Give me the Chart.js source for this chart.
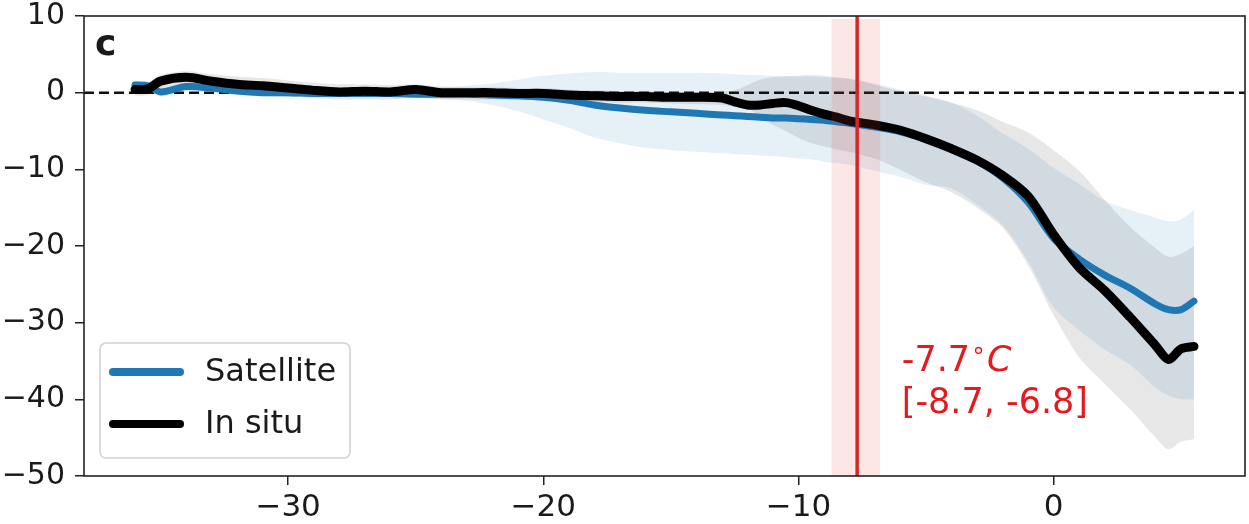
<!DOCTYPE html>
<html>
<head>
<meta charset="utf-8">
<script src="https://cdn.jsdelivr.net/npm/chart.js@4.4.1/dist/chart.umd.min.js"></script>
<style>
  body { margin: 0; background: #fff; }
  canvas { display: block; }
</style>
</head>
<body>
<canvas id="grafico" width="1249" height="524"></canvas>
<script>
// temperature offset (x) and values
const temps = [-36, -35.5, -35, -34, -33, -32, -31, -30, -29, -28, -27, -26, -25, -24, -23, -22, -21, -20, -19, -18,
    -17, -16, -15, -14, -13, -12.5, -12, -11.5, -11, -10.5, -10, -9.5, -9, -8.5, -8, -7, -6, -5, -4, -3,
    -2, -1, 0, 1, 2, 3, 4, 4.5, 5, 5.5];

const inSitu = [0.4, 0.5, 1.5, 2.0, 1.5, 1.1, 0.9, 0.6, 0.3, 0.1, 0.2, 0.1, 0.4, 0.0, 0.0, 0.0, -0.1, -0.1, -0.3, -0.4,
    -0.5, -0.5, -0.6, -0.6, -0.7, -1.2, -1.6, -1.6, -1.4, -1.3, -1.7, -2.3, -2.8, -3.2, -3.7, -4.2, -4.9, -6.0, -7.3, -8.8,
    -10.8, -13.5, -18.5, -22.8, -25.8, -29.3, -33.0, -34.8, -33.4, -33.1];
const inSituUpper = [1.2, 1.3, 2.3, 2.8, 2.4, 2.1, 1.9, 1.6, 1.3, 1.1, 1.1, 1.0, 1.1, 0.8, 0.7, 0.7, 0.6, 0.6, 0.4, 0.3,
    0.2, 0.2, 0.1, 0.1, 0.1, 0.3, 1.0, 1.7, 2.0, 2.1, 2.2, 2.3, 2.2, 2.0, 1.8, 1.0, 0.2, -0.5, -1.3, -2.3,
    -3.8, -5.2, -7.5, -10.2, -14.0, -17.5, -20.3, -21.4, -21.0, -20.0];
const inSituLower = [-0.4, -0.3, 0.6, 1.2, 0.6, 0.1, -0.2, -0.5, -0.7, -0.9, -0.9, -0.9, -0.7, -0.9, -0.9, -0.9, -0.9, -1.0, -1.1, -1.2,
    -1.3, -1.3, -1.4, -1.5, -1.6, -1.8, -2.0, -3.1, -4.2, -5.0, -5.9, -6.6, -7.0, -7.4, -7.7, -8.6, -10.1, -11.7, -13.0, -15.0,
    -17.6, -22.5, -29.0, -34.5, -38.0, -41.3, -45.0, -46.5, -45.5, -45.2];

const satellite = [1.0, 0.9, 0.1, 0.8, 0.6, 0.2, 0.0, 0.0, -0.1, -0.1, -0.1, -0.1, -0.2, -0.2, -0.2, -0.3, -0.4, -0.6, -1.0, -1.6,
    -2.0, -2.3, -2.5, -2.7, -2.9, -3.0, -3.1, -3.2, -3.3, -3.3, -3.4, -3.5, -3.6, -3.8, -4.0, -4.5, -5.1, -6.1, -7.4, -8.9,
    -11.1, -14.3, -19.0, -21.7, -23.8, -25.5, -27.6, -28.3, -28.3, -27.2];
const satelliteUpper = [1.5, 1.4, 0.8, 1.3, 1.1, 0.7, 0.5, 0.5, 0.4, 0.4, 0.4, 0.4, 0.5, 0.7, 0.9, 1.2, 1.7, 2.2, 2.5, 2.7,
    2.6, 2.6, 2.6, 2.6, 2.5, 2.4, 2.3, 2.3, 2.2, 2.2, 2.1, 2.1, 2.0, 1.9, 1.8, 1.2, 0.4, -0.4, -1.3, -3.0,
    -5.3, -7.3, -9.8, -11.9, -14.1, -15.3, -16.3, -16.8, -16.5, -15.3];
const satelliteLower = [0.5, 0.4, -0.5, 0.2, 0.0, -0.3, -0.5, -0.6, -0.6, -0.6, -0.6, -0.6, -0.6, -0.8, -1.1, -1.6, -2.4, -3.5, -4.6, -5.8,
    -6.6, -7.2, -7.5, -7.7, -7.9, -8.0, -8.1, -8.2, -8.3, -8.4, -8.6, -8.7, -9.0, -9.2, -9.4, -10.2, -11.0, -12.0, -12.5, -14.6,
    -17.3, -22.0, -28.0, -31.0, -33.5, -35.5, -38.5, -39.5, -40.0, -40.0];

const xTicks = [-30, -20, -10, 0];
const yTicks = [10, 0, -10, -20, -30, -40, -50];
const xMin = -38, xMax = 7.5;

// threshold and its interval
const umbral = -7.7;
const umbralBajo = -8.7;
const umbralAlto = -6.8;
const textoUmbral = ['-7.7', '[-8.7, -6.8]'];
const posTexto = { x: -5.95, y1: -36.3, y2: -41.8 };
const letraPanel = 'c';

const FUENTE = '"DejaVu Sans", sans-serif';

function puntos(valores) {
    let res = [];
    for (let i = 0; i < temps.length; i++) {
        res.push({ x: temps[i], y: valores[i] });
    }
    return res;
}

function menos(v) {
    return String(v).replace('-', '\u2212');
}

const pluginExtras = {
    id: 'extras',
    afterDatasetsDraw(chart) {
        const ctx = chart.ctx;
        const area = chart.chartArea;
        const xs = chart.scales.x;
        const ys = chart.scales.y;
        ctx.save();

        // interval band and threshold line
        const a = xs.getPixelForValue(umbralBajo);
        const b = xs.getPixelForValue(umbralAlto);
        ctx.fillStyle = 'rgba(240, 60, 60, 0.13)';
        ctx.fillRect(a, area.top + 3, b - a, area.bottom - area.top - 3);
        const xu = xs.getPixelForValue(umbral);
        ctx.strokeStyle = '#d62728';
        ctx.lineWidth = 3.5;
        ctx.beginPath();
        ctx.moveTo(xu, area.top);
        ctx.lineTo(xu, area.bottom);
        ctx.stroke();

        // annotation text
        ctx.fillStyle = '#e41a1c';
        ctx.textBaseline = 'alphabetic';
        ctx.textAlign = 'left';
        const tx = xs.getPixelForValue(posTexto.x);
        const ty1 = ys.getPixelForValue(posTexto.y1);
        const ty2 = ys.getPixelForValue(posTexto.y2);
        ctx.font = '35px ' + FUENTE;
        ctx.fillText(textoUmbral[0], tx, ty1);
        let w = ctx.measureText(textoUmbral[0]).width;
        ctx.font = '24px ' + FUENTE;
        ctx.fillText('\u2218', tx + w + 1, ty1 - 13);
        w += ctx.measureText('\u2218').width + 2;
        ctx.font = 'italic 35px ' + FUENTE;
        ctx.fillText('C', tx + w, ty1);
        ctx.font = '35px ' + FUENTE;
        ctx.fillText(textoUmbral[1], tx, ty2);

        // panel letter
        ctx.fillStyle = '#1a1a1a';
        ctx.font = 'bold 36px ' + FUENTE;
        ctx.fillText(letraPanel, area.left + 11, area.top + 39);

        // legend box
        const leyenda = chart.data.datasets.filter(d => d.label);
        const lx = 100, ly = 343, lw = 250, lh = 115;
        ctx.fillStyle = 'rgba(255,255,255,0.85)';
        ctx.strokeStyle = '#d0d0d0';
        ctx.lineWidth = 1.5;
        ctx.beginPath();
        ctx.roundRect(lx, ly, lw, lh, 6);
        ctx.fill();
        ctx.stroke();
        ctx.font = '32px ' + FUENTE;
        ctx.textBaseline = 'middle';
        ctx.lineCap = 'round';
        for (let i = 0; i < leyenda.length; i++) {
            const yy = ly + 29 + i * 52;
            ctx.strokeStyle = leyenda[i].borderColor;
            ctx.lineWidth = 8;
            ctx.beginPath();
            ctx.moveTo(113, yy);
            ctx.lineTo(180, yy);
            ctx.stroke();
            ctx.fillStyle = '#1a1a1a';
            ctx.fillText(leyenda[i].label, 205, yy + 1);
        }

        // frame
        ctx.strokeStyle = '#222';
        ctx.lineWidth = 1.6;
        ctx.lineCap = 'butt';
        ctx.strokeRect(area.left, area.top, area.right - area.left, area.bottom - area.top);
        ctx.restore();
    }
};

function graficar() {
    const ctx = document.getElementById('grafico').getContext('2d');
    new Chart(ctx, {
        type: 'line',
        data: {
            datasets: [{
                data: puntos(satelliteUpper),
                backgroundColor: 'rgba(31, 119, 180, 0.11)',
                borderWidth: 0,
                pointRadius: 0,
                fill: '+1',
                tension: 0.3,
                order: 6
            }, {
                data: puntos(satelliteLower),
                borderWidth: 0,
                pointRadius: 0,
                fill: false,
                tension: 0.3,
                order: 6
            }, {
                data: puntos(inSituUpper),
                backgroundColor: 'rgba(60, 60, 60, 0.12)',
                borderWidth: 0,
                pointRadius: 0,
                fill: '+1',
                tension: 0.3,
                order: 5
            }, {
                data: puntos(inSituLower),
                borderWidth: 0,
                pointRadius: 0,
                fill: false,
                tension: 0.3,
                order: 5
            }, {
                data: [{ x: xMin, y: 0 }, { x: xMax, y: 0 }],
                borderColor: '#111',
                borderWidth: 2.5,
                borderDash: [10, 5],
                pointRadius: 0,
                fill: false,
                order: 4
            }, {
                label: 'Satellite',
                data: puntos(satellite),
                borderColor: '#1f77b4',
                borderWidth: 7,
                pointRadius: 0,
                fill: false,
                tension: 0.3,
                borderCapStyle: 'round',
                borderJoinStyle: 'round',
                order: 2
            }, {
                label: 'In situ',
                data: puntos(inSitu),
                borderColor: '#000000',
                borderWidth: 9,
                pointRadius: 0,
                fill: false,
                tension: 0.3,
                borderCapStyle: 'round',
                borderJoinStyle: 'round',
                order: 1
            }]
        },
        options: {
            responsive: false,
            animation: false,
            layout: { padding: { top: 16, right: 4, left: 0, bottom: 0 } },
            plugins: {
                legend: { display: false },
                tooltip: { enabled: false }
            },
            scales: {
                x: {
                    type: 'linear',
                    min: xMin,
                    max: xMax,
                    afterFit(scale) {
                        scale.height = 48;
                        scale.paddingLeft = 0;
                        scale.paddingRight = 0;
                    },
                    afterBuildTicks(scale) { scale.ticks = xTicks.map(v => ({ value: v })); },
                    grid: { drawOnChartArea: false, tickLength: 9, tickColor: '#222', lineWidth: 1.5 },
                    border: { display: false },
                    ticks: {
                        color: '#1a1a1a',
                        font: { family: FUENTE, size: 31 },
                        padding: 4,
                        maxRotation: 0,
                        callback: v => menos(v)
                    }
                },
                y: {
                    min: -50,
                    max: 10,
                    afterFit(scale) {
                        scale.width = 84;
                        scale.paddingTop = 0;
                        scale.paddingBottom = 0;
                    },
                    afterBuildTicks(scale) { scale.ticks = yTicks.map(v => ({ value: v })); },
                    grid: { drawOnChartArea: false, tickLength: 9, tickColor: '#222', lineWidth: 1.5 },
                    border: { display: false },
                    ticks: {
                        color: '#1a1a1a',
                        font: { family: FUENTE, size: 30 },
                        padding: 10,
                        callback: v => menos(v)
                    }
                }
            }
        },
        plugins: [pluginExtras]
    });
}

graficar();
</script>
</body>
</html>
